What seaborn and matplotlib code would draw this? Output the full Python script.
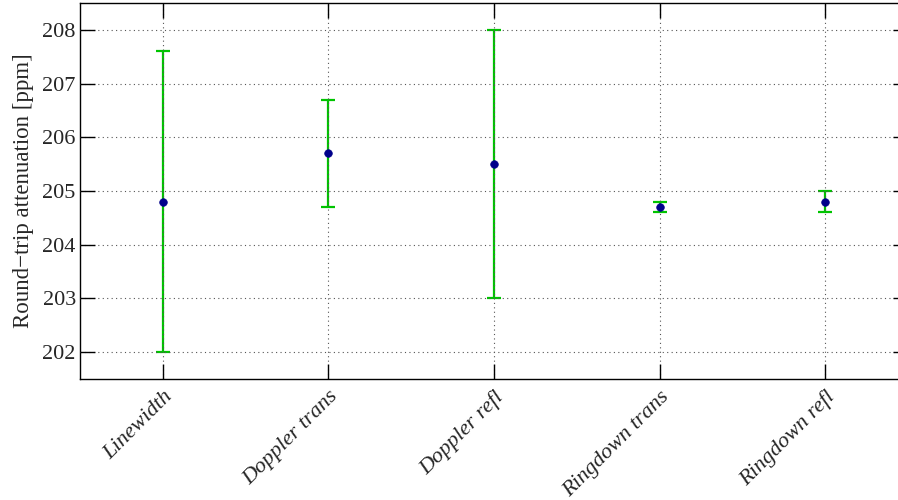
import matplotlib
matplotlib.use("Agg")
import matplotlib.pyplot as plt
from matplotlib import font_manager
import seaborn as sns
import pandas as pd
import numpy as np

categories = ["Linewidth", "Doppler trans", "Doppler refl", "Ringdown trans", "Ringdown refl"]
values = [204.8, 205.7, 205.5, 204.7, 204.8]
lower = [202.0, 204.7, 203.0, 204.6, 204.6]
upper = [207.6, 206.7, 208.0, 204.8, 205.0]
yticks = [202, 203, 204, 205, 206, 207, 208]

sns.set_style("ticks", {"xtick.direction": "in", "ytick.direction": "in"})
available = {f.name for f in font_manager.fontManager.ttflist}
serif = [n for n in ["Liberation Serif", "Times New Roman", "Nimbus Roman", "STIXGeneral", "DejaVu Serif"] if n in available]
plt.rcParams['font.family'] = serif + ['DejaVu Serif']

df = pd.DataFrame({"pos": np.arange(1, len(categories) + 1), "value": values,
                   "lower": lower, "upper": upper})

fig = plt.figure(figsize=(8.98, 5.0), dpi=100)
ax = fig.add_axes([80/898, 121/500, 828/898, 376/500])

yerr = np.vstack([df["value"] - df["lower"], df["upper"] - df["value"]])
ax.errorbar(df["pos"], df["value"], yerr=yerr, fmt="none", ecolor="#00c400",
            elinewidth=1.6, capsize=4.8, capthick=1.6, zorder=2)
sns.scatterplot(data=df, x="pos", y="value", ax=ax, color="#00008b", s=30,
                edgecolor="#00008b", linewidth=0.5, zorder=3, legend=False)

ax.set_xlim(0.5, 5.5)
ax.set_ylim(201.5, 208.5)
ax.set_xticks(df["pos"])
ax.set_xticklabels(categories, rotation=45, ha="right", rotation_mode="anchor",
                   fontsize=16, style="italic")
ax.set_yticks(yticks)
ax.set_yticklabels([str(t) for t in yticks], fontsize=16)
ax.set_xlabel("")
ax.set_ylabel("Round\u2212trip attenuation [ppm]", fontsize=16.5, labelpad=6)
ax.grid(True, linestyle=(0, (1, 3)), color="#555555", linewidth=0.8)
ax.set_axisbelow(False)
ax.tick_params(direction="in", length=11, width=1.0, color="black",
               top=True, right=True, left=True, bottom=True)
ax.tick_params(axis="y", pad=3)
ax.tick_params(axis="x", pad=6)
for s in ax.spines.values():
    s.set_visible(True)
    s.set_linewidth(1.0)
    s.set_color("black")

fig.savefig("out.png", dpi=100)
